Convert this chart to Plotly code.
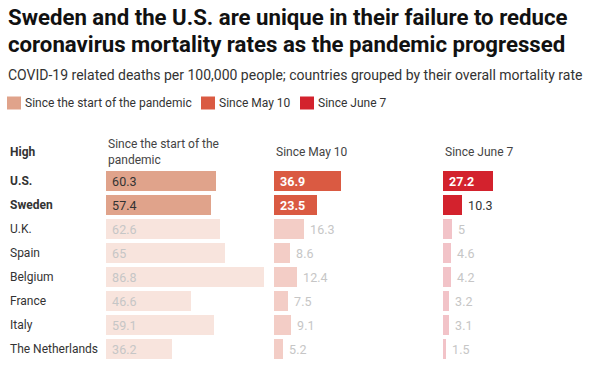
import plotly.graph_objects as go

W, H = 593, 374

# ---- data ----
countries = ["U.S.", "Sweden", "U.K.", "Spain", "Belgium", "France", "Italy", "The Netherlands"]
highlight = [True, True, False, False, False, False, False, False]
since_start = [60.3, 57.4, 62.6, 65, 86.8, 46.6, 59.1, 36.2]
since_may10 = [36.9, 23.5, 16.3, 8.6, 12.4, 7.5, 9.1, 5.2]
since_june7 = [27.2, 10.3, 5, 4.6, 4.2, 3.2, 3.1, 1.5]
series_names = ["Since the start of the pandemic", "Since May 10", "Since June 7"]
column_headers = ["Since the start of the<br>pandemic", "Since May 10", "Since June 7"]
group_label = "High"
title_lines = ["Sweden and the U.S. are unique in their failure to reduce",
               "coronavirus mortality rates as the pandemic progressed"]
subtitle = "COVID-19 related deaths per 100,000 people; countries grouped by their overall mortality rate"

# ---- styles ----
FONT = "Roboto"
strong = ["#e0a38b", "#da5a42", "#d3222d"]
faded = ["#f8e4dd", "#f3cdc6", "#f2c3c8"]
FADED_TXT = "#c6c6c6"
DARK_TXT = "#333333"

PX_PER_UNIT = 1.824
col_left_px = [106, 274, 443]
col_right_px = [270, 440, 593]

def px(x):
    return x / W

def py(y):
    return 1 - y / H

series = [since_start, since_may10, since_june7]

fig = go.Figure()

for ci, vals in enumerate(series):
    colors, positions, tcolors, texts = [], [], [], []
    for ri, v in enumerate(vals):
        hl = highlight[ri]
        colors.append(strong[ci] if hl else faded[ci])
        bar_px = v * PX_PER_UNIT
        if ci == 0:
            positions.append("inside")
            tcolors.append(DARK_TXT if hl else FADED_TXT)
            texts.append(" " + str(v))
        else:
            if hl and bar_px > 36:
                positions.append("inside")
                tcolors.append("white")
                texts.append(" <b>%s</b>" % v)
            else:
                positions.append("outside")
                tcolors.append(DARK_TXT if hl else FADED_TXT)
                texts.append(" " + str(v))
    xa = "x" if ci == 0 else "x%d" % (ci + 1)
    fig.add_trace(go.Bar(
        x=vals, y=countries, orientation="h",
        marker=dict(color=colors, line=dict(width=0)),
        width=0.83,
        text=texts, textposition=positions,
        insidetextanchor="start",
        textfont=dict(family=FONT, size=12.5, color=tcolors),
        constraintext="none",
        cliponaxis=False,
        textangle=0,
        hoverinfo="skip",
        showlegend=False,
        xaxis=xa, yaxis="y",
    ))

y_dom = [py(361), py(169)]
layout = dict(
    width=W, height=H,
    margin=dict(l=0, r=0, t=0, b=0),
    paper_bgcolor="white", plot_bgcolor="white",
    barmode="overlay",
    bargap=0,
    showlegend=False,
    yaxis=dict(domain=y_dom, categoryorder="array", categoryarray=countries,
               autorange="reversed", showticklabels=False, showgrid=False,
               zeroline=False, showline=False, fixedrange=True),
)
for ci in range(3):
    key = "xaxis" if ci == 0 else "xaxis%d" % (ci + 1)
    wpx = col_right_px[ci] - col_left_px[ci]
    layout[key] = dict(domain=[px(col_left_px[ci]), px(col_right_px[ci])],
                       range=[0, wpx / PX_PER_UNIT], showticklabels=False,
                       showgrid=False, zeroline=False, showline=False,
                       fixedrange=True, anchor="y")
fig.update_layout(**layout)

ann = []
# title & subtitle
for li, (line, ycen) in enumerate(zip(title_lines, [17, 44])):
    ann.append(dict(text="<b>" + line + "</b>", x=px(6), y=py(ycen), xref="paper", yref="paper",
                    xanchor="left", yanchor="middle", align="left", showarrow=False,
                    font=dict(family=FONT, size=22.2, color="#111111")))
ann.append(dict(text=subtitle, x=px(6), y=py(75), xref="paper", yref="paper",
                xanchor="left", yanchor="middle", align="left", showarrow=False,
                font=dict(family=FONT, size=14, color="#333333")))
# legend
shapes = []
leg_sq_x = [7, 201, 300]
for i, name in enumerate(series_names):
    shapes.append(dict(type="rect", xref="paper", yref="paper",
                       x0=px(leg_sq_x[i]), x1=px(leg_sq_x[i] + 14),
                       y0=py(109.5), y1=py(96.5), fillcolor=strong[i], line=dict(width=0)))
    ann.append(dict(text=name, x=px(leg_sq_x[i] + 16), y=py(103), xref="paper", yref="paper",
                    xanchor="left", yanchor="middle", showarrow=False,
                    font=dict(family=FONT, size=12, color="#333333")))
# group label
ann.append(dict(text="<b>" + group_label + "</b>", x=px(8), y=py(152), xref="paper", yref="paper",
                xanchor="left", yanchor="middle", showarrow=False,
                font=dict(family=FONT, size=12, color="#333333")))
# column headers
for ci, hdr in enumerate(column_headers):
    ann.append(dict(text=hdr, x=px(col_left_px[ci]), y=py(152), xref="paper", yref="paper",
                    xanchor="left", yanchor="middle", align="left", showarrow=False,
                    font=dict(family=FONT, size=12, color="#444444")))
# row labels
for ri, c in enumerate(countries):
    ann.append(dict(text=("<b>%s</b>" % c) if highlight[ri] else c,
                    x=px(8), y=c, xref="paper", yref="y",
                    xanchor="left", yanchor="middle", showarrow=False,
                    font=dict(family=FONT, size=12, color="#333333")))

fig.update_layout(annotations=ann, shapes=shapes)
fig.write_html("out.html", config={"displayModeBar": False},
               post_script="document.body.style.margin='0';")
